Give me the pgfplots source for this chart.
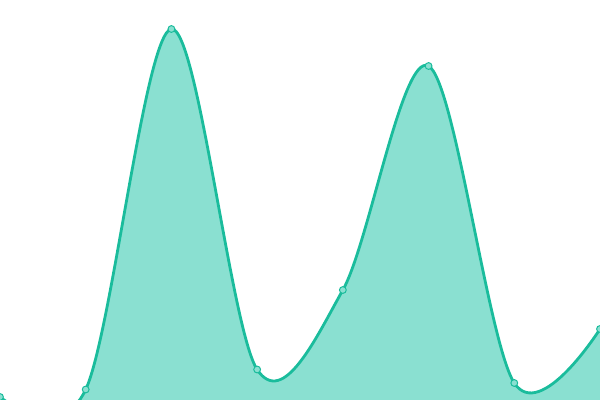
\documentclass[border=0pt]{standalone}
\usepackage{pgfplots}
\pgfplotsset{compat=1.18}
\definecolor{teal1}{HTML}{1ABC9C}
\definecolor{tealfill}{HTML}{8AE0D1}
\begin{document}
\begin{tikzpicture}
\begin{axis}[
    scale only axis,
    width=600bp, height=400bp,
    xmin=0, xmax=7, ymin=0, ymax=400,
    hide axis,
    clip marker paths=true,
]
\addplot[draw=none, fill=tealfill, smooth, tension=0.55]
    coordinates {(0,3)(1,10.5)(2,371)(3,30.5)(4,110)(5,334)(6,17)(7,71)} \closedcycle;
\addplot[teal1, line width=2.8bp, smooth, tension=0.55,
    mark=*, mark size=3.4bp,
    mark options={fill=tealfill, draw=teal1, line width=1bp}]
    coordinates {(0,3)(1,10.5)(2,371)(3,30.5)(4,110)(5,334)(6,17)(7,71)};
\end{axis}
\path[use as bounding box] (current axis.south west) rectangle (current axis.north east);
\end{tikzpicture}
\end{document}
